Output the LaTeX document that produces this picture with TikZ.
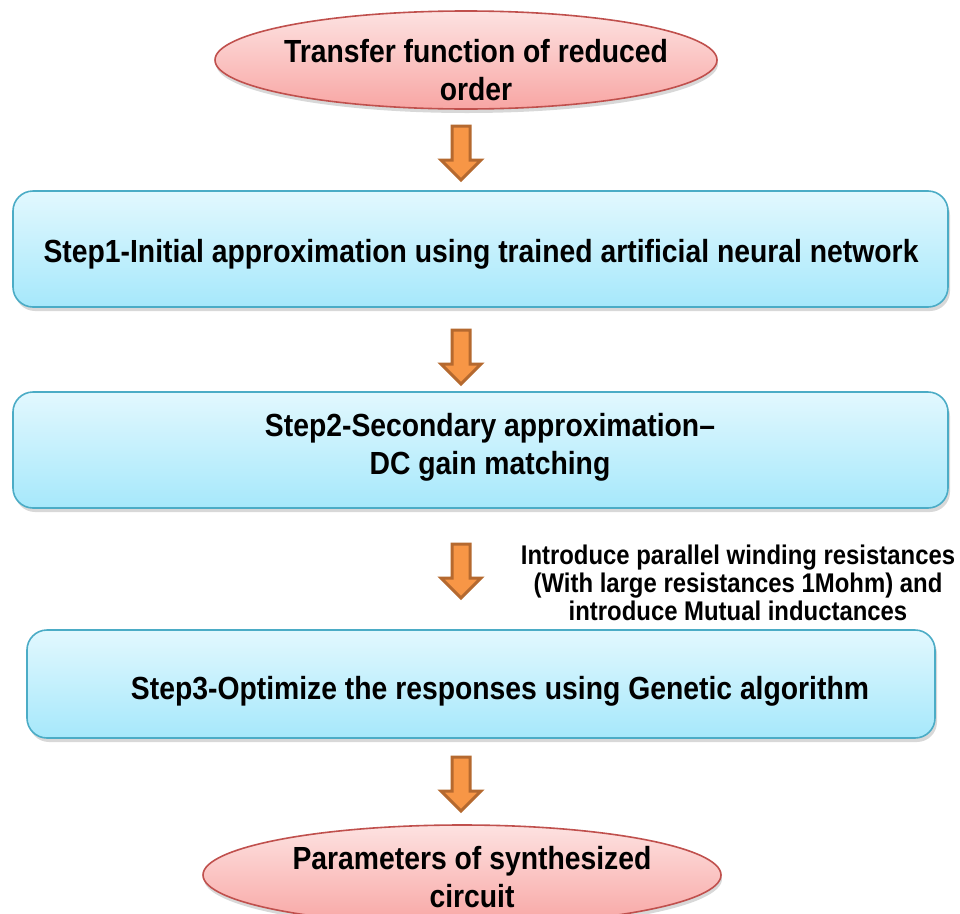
\documentclass[tikz,border=0pt]{standalone}
\usepackage{fontspec}
\setmainfont{Liberation Sans}[FakeStretch=0.885]
\usetikzlibrary{shapes.geometric,shadows,calc}
\definecolor{elltop}{HTML}{FDE2E1}
\definecolor{ellbot}{HTML}{F8A6A4}
\definecolor{elldraw}{HTML}{C0504D}
\definecolor{boxtop}{HTML}{E2F8FE}
\definecolor{boxbot}{HTML}{A6E8FB}
\definecolor{boxdraw}{HTML}{4BACC6}
\definecolor{arrfill}{HTML}{F79646}
\definecolor{arrdraw}{HTML}{B5692F}
\tikzset{
  ellbox/.style={ellipse, draw=elldraw, line width=1.6pt, top color=elltop, bottom color=ellbot,
     inner sep=0pt, drop shadow={shadow xshift=1pt, shadow yshift=-4pt, opacity=0.3, fill=gray}},
  stepbox/.style={rectangle, rounded corners=20pt, draw=boxdraw, line width=1.6pt, top color=boxtop, bottom color=boxbot,
     inner sep=0pt, drop shadow={shadow xshift=2pt, shadow yshift=-4pt, opacity=0.3, fill=gray}},
  bigtxt/.style={font=\fontsize{32pt}{38pt}\selectfont\bfseries, align=center, inner sep=0pt},
  smalltxt/.style={font=\fontsize{27pt}{28pt}\selectfont\bfseries, align=center, inner sep=0pt},
  blockarrow/.style={fill=arrfill, draw=arrdraw, line width=3pt, line join=miter}
}
\newcommand{\blockarrowat}[1]{%
  \draw[blockarrow] ($(#1)+(-9,0)$) -- ($(#1)+(9,0)$) -- ($(#1)+(9,34)$) -- ($(#1)+(20,34)$)
     -- ($(#1)+(0,54)$) -- ($(#1)+(-20,34)$) -- ($(#1)+(-9,34)$) -- cycle;}
\begin{document}
\begin{tikzpicture}[x=1pt,y=-1pt]
\useasboundingbox[fill=white] (0,0) rectangle (960,913);
% shapes
\node[ellbox, minimum width=502pt, minimum height=98pt] (start) at (466,60) {};
\node[stepbox, minimum width=935pt, minimum height=116pt] (s1) at (480.5,249) {};
\node[stepbox, minimum width=935pt, minimum height=116pt] (s2) at (480.5,450) {};
\node[stepbox, minimum width=908pt, minimum height=108pt] (s3) at (481,684) {};
\node[ellbox, minimum width=518pt, minimum height=100pt] (stop) at (462,875) {};
% texts
\node[bigtxt] (t0) at (476,70) {Transfer function of reduced\\order};
\node[bigtxt] (t1) at (481,254) {Step1-Initial approximation using trained artificial neural network};
\node[bigtxt] (t2) at (490,447) {Step2-Secondary approximation–\\DC gain matching};
\node[bigtxt] (t3) at (500,691) {Step3-Optimize the responses using Genetic algorithm};
\node[bigtxt] (t4) at (472,877) {Parameters of synthesized\\circuit};
\node[smalltxt] (note) at (738,583) {Introduce parallel winding resistances\\(With large resistances 1Mohm) and\\introduce Mutual inductances};
% block arrows between the shapes
\coordinate (a1) at (461,126);
\coordinate (a2) at (461,330);
\coordinate (a3) at (461,544);
\coordinate (a4) at (461,757);
\blockarrowat{a1}
\blockarrowat{a2}
\blockarrowat{a3}
\blockarrowat{a4}
\end{tikzpicture}
\end{document}
